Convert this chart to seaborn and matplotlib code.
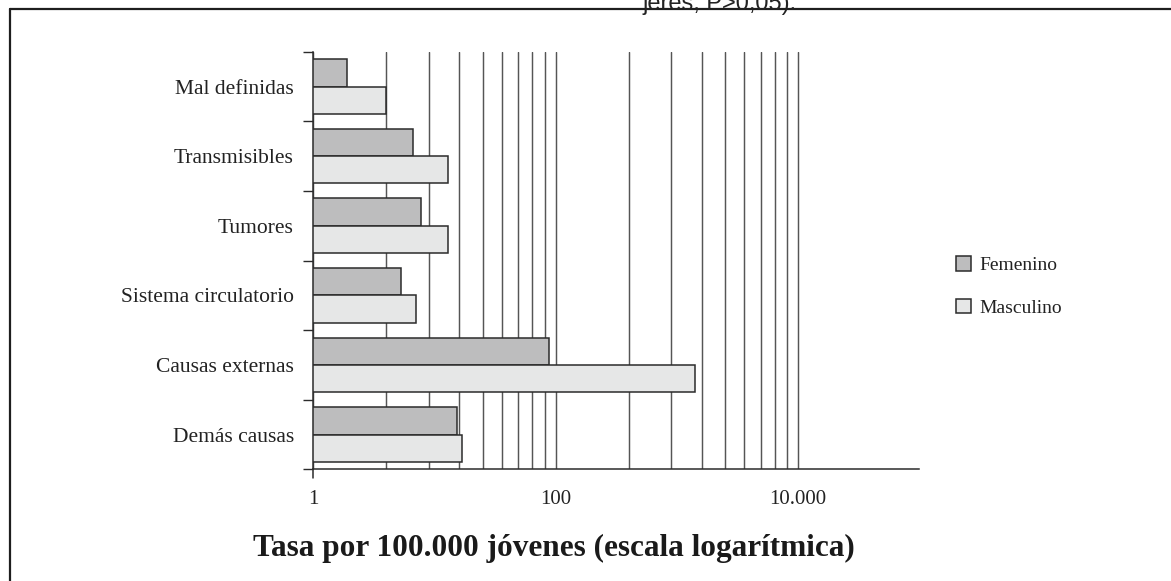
import numpy as np
import pandas as pd
import matplotlib
matplotlib.use("Agg")
import matplotlib.pyplot as plt
from matplotlib.lines import Line2D
from matplotlib.ticker import NullFormatter
import seaborn as sns

# ---- data ----
categories = ["Mal definidas", "Transmisibles", "Tumores",
              "Sistema circulatorio", "Causas externas", "Demás causas"]
series_names = ["Femenino", "Masculino"]
femenino = [1.9, 6.6, 7.8, 5.3, 88, 15.4]
masculino = [4.0, 12.9, 12.9, 7.1, 1420, 16.9]
tick_values = [1, 100, 10000]
tick_labels = ["1", "100", "10.000"]
grid_values = [4, 9, 16, 25, 36, 49, 64, 81, 100,
               400, 900, 1600, 2500, 3600, 4900, 6400, 8100, 10000]
xlabel = "Tasa por 100.000 jóvenes (escala logarítmica)"
top_text = "jeres, P>0,05)."

# ---- style ----
sns.set_theme(style="white")
plt.rcParams["font.family"] = ["Liberation Serif", "DejaVu Serif"]
dark = "#2b2b2b"
grid_c = "#555555"
fem_c = "#bdbdbe"
masc_c = "#e6e7e7"

W, H = 1171, 581
fig = plt.figure(figsize=(W / 100, H / 100), dpi=100)
fig.patch.set_facecolor("white")

ax_left, ax_right, ax_top, ax_bot = 313.3, 919.3, 51.7, 469.3
ax = fig.add_axes([ax_left / W, 1 - ax_bot / H, (ax_right - ax_left) / W, (ax_bot - ax_top) / H])

df = pd.DataFrame({
    "Causa": categories * 2,
    "Tasa": femenino + masculino,
    "Sexo": [series_names[0]] * len(categories) + [series_names[1]] * len(categories),
})

sns.barplot(data=df, x="Tasa", y="Causa", hue="Sexo", order=categories,
            hue_order=series_names, palette=[fem_c, masc_c], saturation=1,
            width=0.785, edgecolor=dark, linewidth=1.1, orient="h",
            log_scale=True, ax=ax, errorbar=None)

ax.set_xscale("log")
ax.set_xlim(1, 1e5)
ax.set_ylim(len(categories) - 0.5, -0.5)

# x ticks / grid
ax.set_xticks(tick_values)
ax.set_xticklabels(tick_labels)
ax.set_xticks(grid_values, minor=True)
ax.xaxis.set_minor_formatter(NullFormatter())
ax.tick_params(axis="x", which="both", length=0, pad=15, labelsize=15, labelcolor="#222222")
ax.grid(True, axis="x", which="both", color=grid_c, linewidth=1.05)
ax.grid(False, axis="y")
ax.set_axisbelow(True)

# y ticks: labels at centers, marks at boundaries
ax.set_yticks(range(len(categories)))
ax.set_yticklabels(categories)
ax.set_yticks(np.arange(-0.5, len(categories), 1.0), minor=True)
ax.yaxis.set_minor_formatter(NullFormatter())
ax.tick_params(axis="y", which="major", length=0, pad=14, labelsize=15.5, labelcolor="#222222")
ax.tick_params(axis="y", which="minor", left=True, length=7.2, width=1.0, color=dark)
ax.set_ylabel("")

for s in ["top", "right"]:
    ax.spines[s].set_visible(False)
for s in ["left", "bottom"]:
    ax.spines[s].set_color(dark)
    ax.spines[s].set_linewidth(1.1)

ax.set_xlabel(xlabel, fontsize=22.5, fontweight="bold", color="#1a1a1a", va="center")
ax.xaxis.set_label_coords((554 - ax_left) / (ax_right - ax_left), -(548 - ax_bot) / (ax_bot - ax_top))

# small extension of the left spine below the axis
fig.add_artist(Line2D([ax_left / W, ax_left / W], [1 - ax_bot / H, 1 - 478 / H],
                      color=dark, linewidth=1.1))

# legend
handles, labels = ax.get_legend_handles_labels()
if ax.get_legend() is not None:
    ax.get_legend().remove()
leg = fig.legend(handles, labels, loc="center left", bbox_to_anchor=(956 / W, 1 - 286.5 / H),
                 frameon=False, fontsize=14, handlelength=0.75, handleheight=0.75,
                 handletextpad=0.45, labelspacing=1.25, borderaxespad=0, borderpad=0)
for t in leg.get_texts():
    t.set_color("#222222")

# outer frame (partial) and cut-off text at top
frame_y = 1 - 8.7 / H
fig.add_artist(Line2D([10 / W, 1.0], [frame_y, frame_y], color="#1e1e1e", linewidth=1.6))
fig.add_artist(Line2D([10 / W, 10 / W], [0, frame_y], color="#1e1e1e", linewidth=1.6))
fig.text(642 / W, 1 - 10 / H, top_text, ha="left", va="baseline", fontsize=17,
         family=["Liberation Sans Narrow", "Liberation Sans", "DejaVu Sans"], color="#222222")

fig.savefig("out.png", dpi=100, facecolor="white")
